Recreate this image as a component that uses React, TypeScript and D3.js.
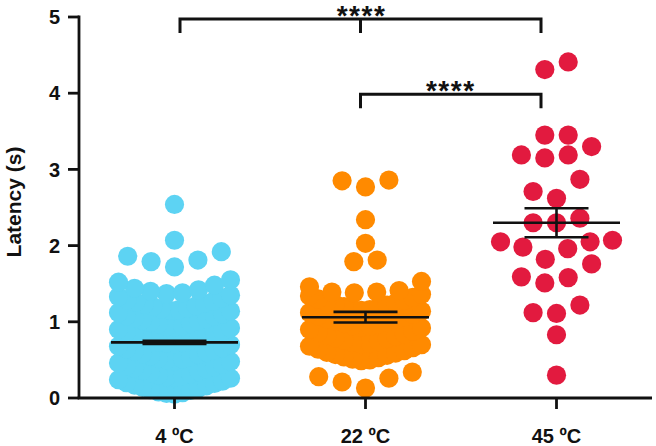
import React, { useEffect } from 'react';
import * as d3 from 'd3';

const categories = ['4 ºC', '22 ºC', '45 ºC'];
const colors = ['#5DD3F3', '#FF8A00', '#E21A3F'];

// latency (s)
const cold = [
  0.05, 0.06, 0.07, 0.08, 0.1, 0.11, 0.13, 0.14, 0.16, 0.17, 0.19, 0.2, 0.22, 0.24, 0.26,
  0.27, 0.28, 0.29, 0.3, 0.32, 0.33, 0.35, 0.36, 0.38, 0.39, 0.41, 0.42, 0.44, 0.46, 0.48,
  0.49, 0.5, 0.51, 0.52, 0.54, 0.55, 0.57, 0.58, 0.6, 0.61, 0.63, 0.64, 0.66, 0.68, 0.7,
  0.71, 0.72, 0.73, 0.74, 0.76, 0.77, 0.79, 0.8, 0.82, 0.83, 0.85, 0.86, 0.88, 0.9, 0.92,
  0.93, 0.94, 0.95, 0.97, 0.98, 0.99, 1.01, 1.02, 1.04, 1.05, 1.07, 1.08, 1.1, 1.12, 1.14,
  1.15, 1.16, 1.17, 1.18, 1.2, 1.21, 1.23, 1.24, 1.26, 1.27, 1.29, 1.31, 1.33, 1.35,
  1.37, 1.38, 1.4, 1.42, 1.44, 1.48, 1.52, 1.55,
  1.72, 1.79, 1.81, 1.86, 1.92, 2.07, 2.54,
];
const room = [
  0.13, 0.21, 0.26, 0.28, 0.34,
  0.49, 0.5, 0.51, 0.53, 0.54, 0.56, 0.57, 0.59, 0.6, 0.62, 0.64, 0.66, 0.68, 0.7,
  0.71, 0.72, 0.73, 0.75, 0.76, 0.78, 0.79, 0.81, 0.82, 0.84, 0.86, 0.88, 0.9, 0.92,
  0.93, 0.94, 0.95, 0.97, 0.98, 1.0, 1.01, 1.03, 1.04, 1.06, 1.08, 1.1, 1.12, 1.14,
  1.15, 1.16, 1.17, 1.19, 1.2, 1.22, 1.23, 1.25, 1.26, 1.28, 1.3, 1.32, 1.34, 1.36,
  1.38, 1.39, 1.39, 1.41, 1.46, 1.53, 1.79, 1.81, 2.03, 2.34, 2.77, 2.85, 2.86,
];
const hot = [
  0.3, 0.83, 1.11, 1.12, 1.22, 1.51, 1.58, 1.59, 1.76, 1.82, 1.96, 1.98,
  2.05, 2.05, 2.07, 2.3, 2.3, 2.36, 2.62, 2.71, 2.87, 3.15, 3.19, 3.19,
  3.3, 3.45, 3.45, 4.31, 4.41,
];
const groups = [cold, room, hot];
const means = [0.73, 1.06, 2.3];
const sems = [0.02, 0.07, 0.19];
const yTicks = [0, 1, 2, 3, 4, 5];

// significance brackets
const comparisons = [
  { from: 0, to: 2, at: 5.0, label: '****', mid: true },
  { from: 1, to: 2, at: 4.0, label: '****', mid: false },
];

const W = 656;
const H = 446;
const R = 9.6;
const rowSizes = [0.22, 0.22, 0.28];
const font = '"Liberation Sans", Arial, sans-serif';

const x = d3.scaleBand<number>().domain([0, 1, 2]).range([79, 652]);
const y = d3.scaleLinear().domain([0, 5]).range([398, 17]);
const bx = d3.scalePoint<number>().domain([0, 1, 2]).range([180, 541]);

// column scatter: values grouped in rows, spread from the centre outwards
function swarm(values: number[], rowSize: number, maxHalf: number) {
  const sorted = [...values].sort((a, b) => a - b);
  const rows: number[][] = [];
  let start = -Infinity;
  for (const v of sorted) {
    if (v - start >= rowSize - 1e-9) {
      rows.push([]);
      start = v;
    }
    rows[rows.length - 1].push(v);
  }
  const out: { v: number; dx: number }[] = [];
  for (const row of rows) {
    const n = row.length;
    const s = n > 1 ? Math.min(23.4, (2 * maxHalf) / (n - 1)) : 0;
    row.forEach((v, k) => {
      let dx: number;
      if (n % 2 === 1) {
        const m = Math.ceil(k / 2);
        dx = k === 0 ? 0 : (k % 2 === 1 ? -1 : 1) * m * s;
      } else {
        const m = Math.floor(k / 2) + 0.5;
        dx = (k % 2 === 0 ? -1 : 1) * m * s;
      }
      out.push({ v, dx });
    });
  }
  return out;
}

export default function App() {
  useEffect(() => {
    document.body.style.margin = '0';
  }, []);

  const half = 63.5;
  const cap = 32;

  return (
    <svg width={W} height={H} style={{ display: 'block' }} fontFamily={font}>
      <rect width={W} height={H} fill="#fff" />

      {groups.map((vals, i) => {
        const cx = x(i)! + x.bandwidth() / 2;
        return (
          <g key={i}>
            {swarm(vals, rowSizes[i], 56).map((p, j) => (
              <circle key={j} cx={cx + p.dx} cy={y(p.v)} r={R} fill={colors[i]} />
            ))}
          </g>
        );
      })}

      {means.map((m, i) => {
        const cx = x(i)! + x.bandwidth() / 2;
        const hi = y(m + sems[i]);
        const lo = y(m - sems[i]);
        return (
          <g key={i} stroke="#111" strokeWidth={2.6}>
            <line x1={cx - half} x2={cx + half} y1={y(m)} y2={y(m)} />
            <line x1={cx - cap} x2={cx + cap} y1={hi} y2={hi} />
            <line x1={cx - cap} x2={cx + cap} y1={lo} y2={lo} />
            <line x1={cx} x2={cx} y1={hi} y2={lo} />
          </g>
        );
      })}

      {/* axes */}
      <g stroke="#111" strokeWidth={2.8} fill="none">
        <line x1={79} x2={79} y1={y(5) - 1.4} y2={y(0)} />
        <line x1={77.6} x2={652} y1={y(0)} y2={y(0)} />
        {yTicks.map((t) => (
          <line key={t} x1={68} x2={79} y1={y(t)} y2={y(t)} />
        ))}
        {categories.map((c, i) => {
          const cx = x(i)! + x.bandwidth() / 2;
          return <line key={c} x1={cx} x2={cx} y1={y(0)} y2={y(0) + 11} />;
        })}
      </g>
      <g fontWeight="bold" fontSize={20} fill="#111">
        {yTicks.map((t) => (
          <text key={t} x={60} y={y(t)} dy="0.36em" textAnchor="end">
            {t}
          </text>
        ))}
        {categories.map((c, i) => (
          <text key={c} x={x(i)! + x.bandwidth() / 2} y={443} textAnchor="middle">
            {c}
          </text>
        ))}
        <text transform="translate(21,202) rotate(-90)" textAnchor="middle" fontSize={21}>
          Latency (s)
        </text>
      </g>

      {/* brackets */}
      {comparisons.map((c, i) => {
        const yy = y(c.at) + (i === 0 ? 2 : 1);
        const x1 = bx(c.from)!;
        const x2 = bx(c.to)!;
        const xm = bx(1)!;
        return (
          <g key={i}>
            <path
              d={`M${x1},${yy + 14}V${yy}H${x2}V${yy + 14}` + (c.mid ? `M${xm},${yy}V${yy + 14}` : '')}
              fill="none"
              stroke="#111"
              strokeWidth={3}
            />
            <text
              x={(x1 + x2) / 2 + (c.mid ? 1 : 0)}
              y={yy + 6}
              textAnchor="middle"
              fontWeight="bold"
              fontSize={28}
              letterSpacing={1.5}
              fill="#111"
            >
              {c.label}
            </text>
          </g>
        );
      })}
    </svg>
  );
}
